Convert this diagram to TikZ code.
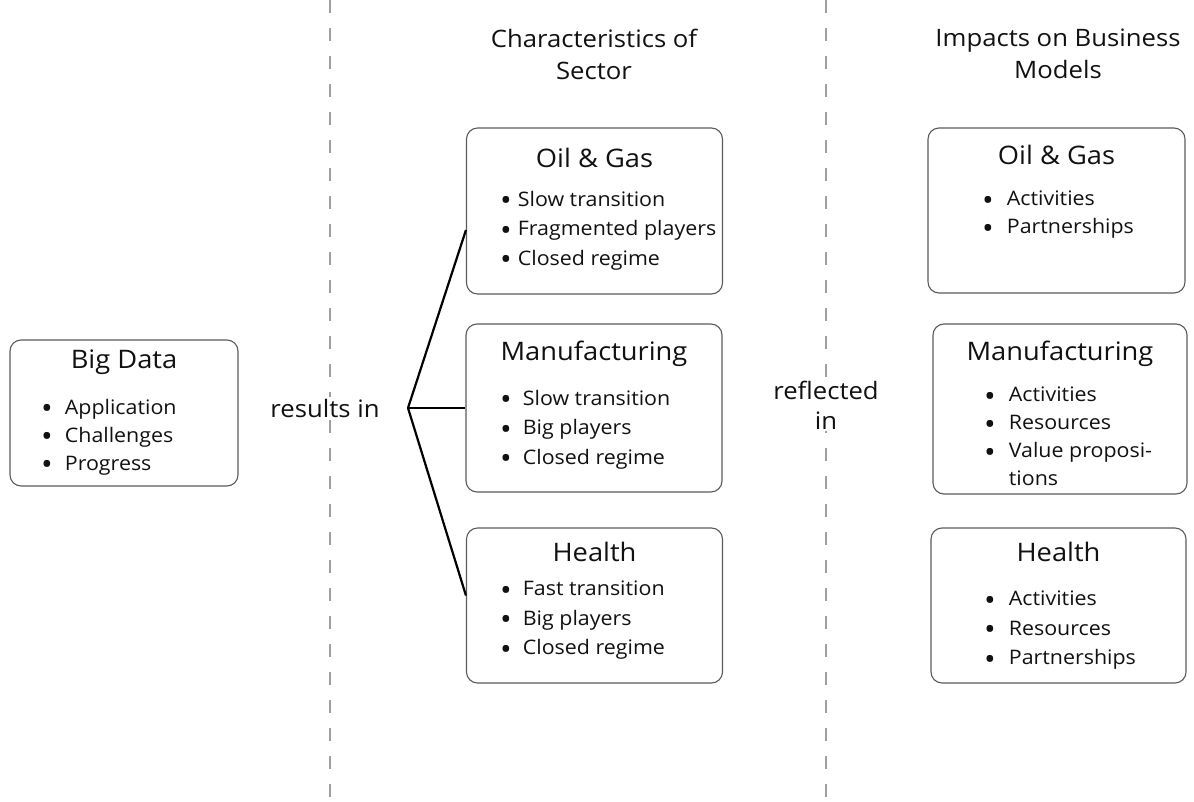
\documentclass[tikz,border=0pt]{standalone}
\usepackage{fontspec}
\setmainfont[FakeStretch=1.07]{Open Sans}
\usetikzlibrary{positioning}
\definecolor{boxgray}{HTML}{5A5A5A}
\definecolor{sepgray}{HTML}{A0A0A0}
\definecolor{inkdark}{HTML}{111111}
\newcommand{\bul}{\raisebox{-4.5pt}{\scalebox{1.45}{\textbullet}}}

\begin{document}
\begin{tikzpicture}[x=1pt, y=-1pt, inkdark,
    box/.style={draw=boxgray, line width=1.1pt, rounded corners=11pt, inner sep=0pt},
    head/.style={font=\fontsize{24}{32}\selectfont, align=center},
    title/.style={font=\fontsize{25.5}{28}\selectfont, anchor=center},
    items/.style={font=\fontsize{20}{29.5}\selectfont, align=left, anchor=north west, inner sep=0pt},
    sep/.style={sepgray, line width=1.6pt, dash pattern=on 13pt off 15pt},
    conn/.style={black, line width=2.2pt}]
  \useasboundingbox (0,0) rectangle (1194,802);

  % separators
  \coordinate (s1top) at (330,0);
  \coordinate (s1bot) at (330,802);
  \coordinate (s2top) at (826,0);
  \coordinate (s2bot) at (826,802);
  \draw[sep] (s1top) -- (s1bot);
  \draw[sep] (s2top) -- (s2bot);

  % headings
  \node[head] (hcs) at (594,54)  {Characteristics of\\Sector};
  \node[head] (hbm) at (1058,54) {Impacts on Business\\Models};

  % big data
  \node[box, minimum width=228pt, minimum height=146pt] (bd) at (124,413) {};
  \node[title] (bdt) at (124,362) {Big Data};
  \node[items, font=\fontsize{20}{28}\selectfont] (bdl) at (41,399) {\bul\hspace{12pt}Application\\\bul\hspace{12pt}Challenges\\\bul\hspace{12pt}Progress};

  % sector characteristics
  \node[box, minimum width=256pt, minimum height=166pt] (ocs) at (594.5,211) {};
  \node[title] (ocst) at (594.5,158) {Oil \& Gas};
  \node[items] (ocsl) at (500,191) {\bul\hspace{6pt}Slow transition\\\bul\hspace{6pt}Fragmented players\\\bul\hspace{6pt}Closed regime};

  \node[box, minimum width=256pt, minimum height=168pt] (mcs) at (594,408) {};
  \node[title] (mcst) at (594,354) {Manufacturing};
  \node[items] (mcsl) at (500,390) {\bul\hspace{11pt}Slow transition\\\bul\hspace{11pt}Big players\\\bul\hspace{11pt}Closed regime};

  \node[box, minimum width=256pt, minimum height=155pt] (hcs) at (594.5,605.5) {};
  \node[title] (hcst) at (594.5,552) {Health};
  \node[items] (hcsl) at (500,581) {\bul\hspace{11pt}Fast transition\\\bul\hspace{11pt}Big players\\\bul\hspace{11pt}Closed regime};

  % business model impacts
  \node[box, minimum width=257pt, minimum height=165pt] (obm) at (1056.5,210.5) {};
  \node[title] (obmt) at (1056.5,155) {Oil \& Gas};
  \node[items, font=\fontsize{20}{28}\selectfont] (obml) at (982,191) {\bul\hspace{13pt}Activities\\\bul\hspace{13pt}Partnerships};

  \node[box, minimum width=254pt, minimum height=170pt] (mbm) at (1060,409) {};
  \node[title] (mbmt) at (1060,354) {Manufacturing};
  \node[items, font=\fontsize{20}{28}\selectfont] (mbml) at (984,387) {\bul\hspace{13pt}Activities\\\bul\hspace{13pt}Resources\\\bul\hspace{13pt}Value proposi-\\\phantom{\bul}\hspace{13pt}tions};

  \node[box, minimum width=255pt, minimum height=155pt] (hbm) at (1058.5,605.5) {};
  \node[title] (hbmt) at (1058.5,552) {Health};
  \node[items] (hbml) at (984,591) {\bul\hspace{13pt}Activities\\\bul\hspace{13pt}Resources\\\bul\hspace{13pt}Partnerships};

  % links
  \node[fill=white, inner sep=2pt, font=\fontsize{24}{28}\selectfont] (res) at (325,408) {results in};
  \node[fill=white, inner sep=2pt, font=\fontsize{24}{30}\selectfont, align=center] (refl) at (826,405) {reflected\\in};
  \coordinate (fork) at (408,408);
  \draw[conn] (fork) -- ([yshift=-19pt]ocs.west);
  \draw[conn] (fork) -- (mcs.west);
  \draw[conn] (fork) -- ([yshift=10pt]hcs.west);
\end{tikzpicture}
\end{document}
